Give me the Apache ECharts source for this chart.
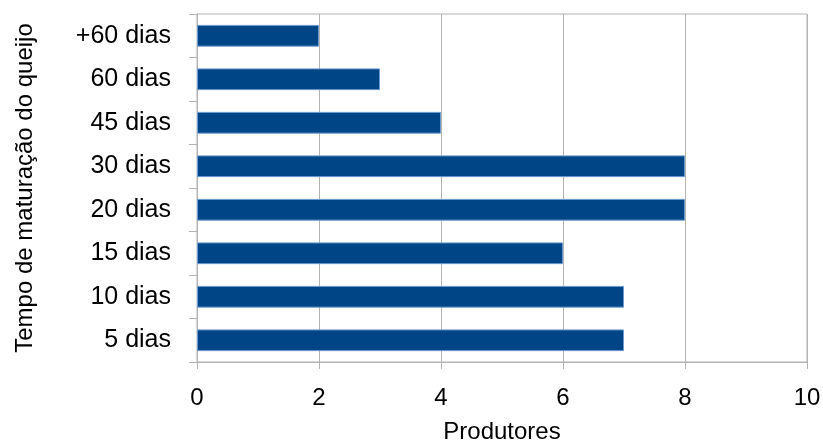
<!DOCTYPE html>
<html>
<head>
<meta charset="utf-8">
<script src="https://cdn.jsdelivr.net/npm/echarts@6/dist/echarts.min.js"></script>
<style>
html, body { margin: 0; padding: 0; background: #fff; }
</style>
</head>
<body>
<div id="myChart" style="width: 823px; height: 443px;"></div>
<script>
// categories, bottom to top
var categorias = ['5 dias', '10 dias', '15 dias', '20 dias', '30 dias', '45 dias', '60 dias', '+60 dias'];
var produtores = [7, 7, 6, 8, 8, 4, 3, 2];
var ticksX = [0, 2, 4, 6, 8, 10];

var myChart = echarts.init(document.getElementById('myChart'));
var options = {
  backgroundColor: '#fff',
  textStyle: { fontFamily: 'Liberation Sans, Arial, sans-serif' },
  grid: {
    left: 197, right: 16, top: 14, bottom: 81,
    outerBoundsMode: 'none',
    containLabel: false,
    show: true, borderColor: '#b3b3b3', borderWidth: 1
  },
  xAxis: {
    type: 'value',
    min: ticksX[0],
    max: ticksX[ticksX.length - 1],
    interval: 2,
    name: 'Produtores',
    nameLocation: 'middle',
    nameGap: 58,
    nameTextStyle: { fontSize: 24, color: '#000' },
    axisLine: { show: true, lineStyle: { color: '#b3b3b3' } },
    axisTick: { show: true, length: 7, lineStyle: { color: '#b3b3b3' } },
    axisLabel: { fontSize: 24, color: '#000', margin: 24 },
    splitLine: { show: true, lineStyle: { color: '#b3b3b3' } }
  },
  yAxis: {
    type: 'category',
    data: categorias,
    name: 'Tempo de maturação do queijo',
    nameLocation: 'middle',
    nameGap: 160,
    nameTextStyle: { fontSize: 24, color: '#000' },
    axisLine: { show: true, lineStyle: { color: '#b3b3b3' } },
    axisTick: { show: true, length: 8, lineStyle: { color: '#b3b3b3' } },
    axisLabel: { fontSize: 25, color: '#000', margin: 26 },
    splitLine: { show: false }
  },
  series: [{
    type: 'bar',
    data: produtores,
    barCategoryGap: '50%',
    itemStyle: { color: '#004586', borderColor: '#6a9ad0', borderWidth: 1 },
    animation: false
  }]
};
myChart.setOption(options);
</script>
</body>
</html>
